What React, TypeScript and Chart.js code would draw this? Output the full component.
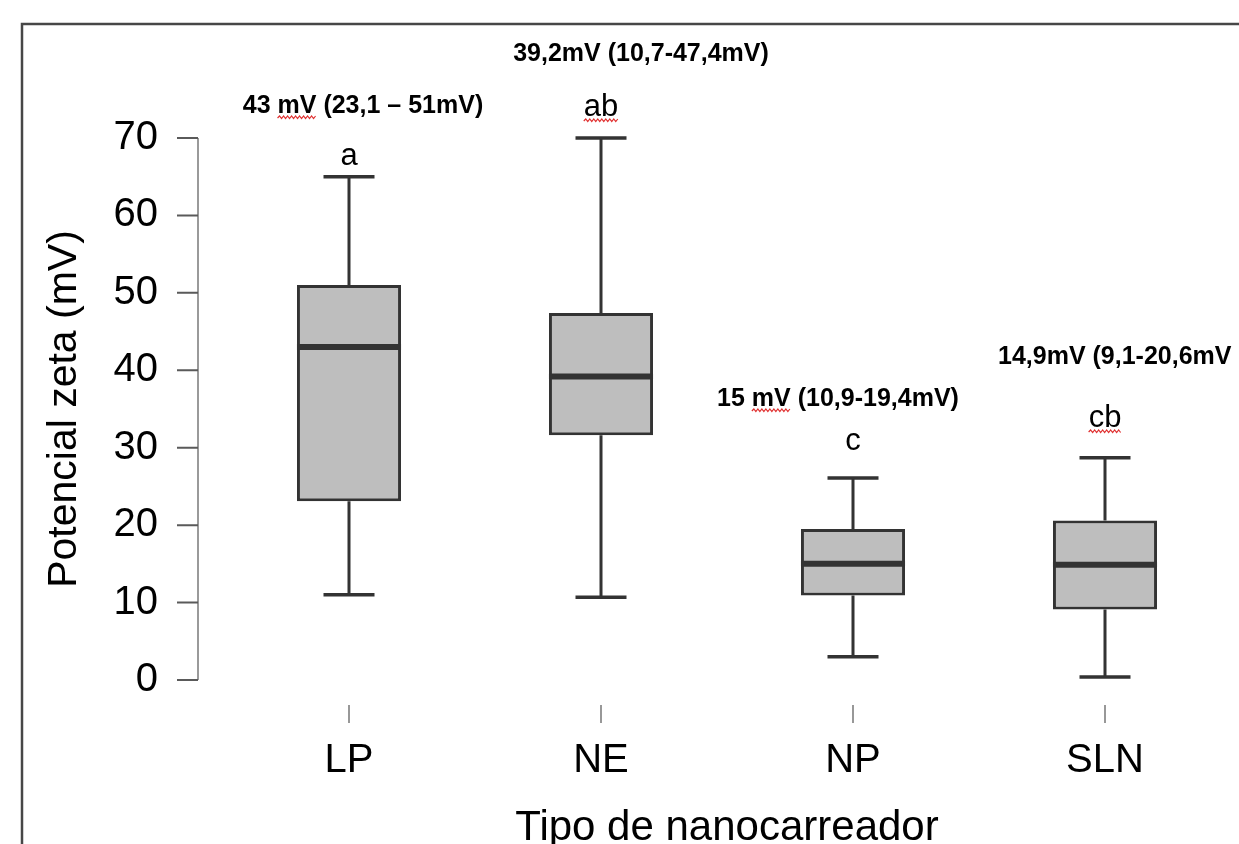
import React, { useEffect, useRef } from "react";
import { Chart, registerables } from "chart.js";

Chart.register(...registerables);

// ---- data ----
const categories = ["LP", "NE", "NP", "SLN"];
const whiskerMin = [11.0, 10.7, 3.0, 0.4];
const q1 = [23.1, 31.6, 10.9, 9.1];
const median = [43.0, 39.2, 15.0, 14.9];
const q3 = [51.0, 47.4, 19.5, 20.6];
const whiskerMax = [65.0, 70.0, 26.1, 28.7];
const yMin = 0;
const yMax = 70;
const yStep = 10;
const summaryLabels = ["43 mV (23,1 – 51mV)", "39,2mV (10,7-47,4mV)", "15 mV (10,9-19,4mV)", "14,9mV (9,1-20,6mV"];
const summaryUnderline = ["mV", "", "mV", ""];
const groupLetters = ["a", "ab", "c", "cb"];
const groupUnderline = [false, true, false, true];

// ---- layout / styles ----
const W = 1239;
const H = 844;
const FONT = "'Liberation Sans', Arial, sans-serif";
const summaryDx = [14, 40, -15, 0];
const summaryAlign: CanvasTextAlign[] = ["center", "center", "center", "left"];
const summaryLeftX = [0, 0, 0, 998];
const summaryBaseline = [113, 61, 406, 364];
const letterBaseline = [165, 116, 450, 427];

function squiggle(ctx: CanvasRenderingContext2D, x0: number, x1: number, yb: number) {
  ctx.save();
  ctx.strokeStyle = "#e03030";
  ctx.lineWidth = 1.2;
  ctx.beginPath();
  let up = true;
  ctx.moveTo(x0, yb);
  for (let x = x0 + 2; x <= x1; x += 2) {
    ctx.lineTo(x, up ? yb - 2 : yb + 0.5);
    up = !up;
  }
  ctx.stroke();
  ctx.restore();
}

const boxPlugin = {
  id: "boxExtras",
  beforeDraw(chart: any) {
    const ctx: CanvasRenderingContext2D = chart.ctx;
    ctx.save();
    ctx.fillStyle = "#ffffff";
    ctx.fillRect(0, 0, chart.width, chart.height);
    ctx.strokeStyle = "#474747";
    ctx.lineWidth = 2.5;
    ctx.beginPath();
    ctx.moveTo(22, chart.height + 2);
    ctx.lineTo(22, 24);
    ctx.lineTo(chart.width + 2, 24);
    ctx.stroke();
    ctx.restore();
  },
  afterDatasetsDraw(chart: any) {
    const ctx: CanvasRenderingContext2D = chart.ctx;
    const xs = chart.scales.x;
    const ys = chart.scales.y;
    const area = chart.chartArea;
    const meta = chart.getDatasetMeta(0);
    const py = (v: number) => ys.getPixelForValue(v);
    ctx.save();
    ctx.strokeStyle = "#333333";
    ctx.lineCap = "butt";
    categories.forEach((_, i) => {
      const el = meta.data[i];
      const cx = el.x;
      const half = el.width / 2;
      ctx.lineWidth = 3;
      ctx.beginPath();
      ctx.moveTo(cx, py(q3[i]));
      ctx.lineTo(cx, py(whiskerMax[i]));
      ctx.moveTo(cx, py(q1[i]));
      ctx.lineTo(cx, py(whiskerMin[i]));
      ctx.stroke();
      ctx.lineWidth = 3.5;
      ctx.beginPath();
      ctx.moveTo(cx - 25.5, py(whiskerMax[i]));
      ctx.lineTo(cx + 25.5, py(whiskerMax[i]));
      ctx.moveTo(cx - 25.5, py(whiskerMin[i]));
      ctx.lineTo(cx + 25.5, py(whiskerMin[i]));
      ctx.stroke();
      ctx.lineWidth = 6;
      ctx.beginPath();
      ctx.moveTo(cx - half, py(median[i]));
      ctx.lineTo(cx + half, py(median[i]));
      ctx.stroke();
    });

    // y axis line and ticks (offset from plot, R style)
    const axX = area.left - 25;
    ctx.strokeStyle = "#9a9a9a";
    ctx.lineWidth = 2;
    ctx.beginPath();
    ctx.moveTo(axX, py(yMin));
    ctx.lineTo(axX, py(yMax));
    ctx.stroke();
    ctx.strokeStyle = "#5a5a5a";
    ctx.beginPath();
    ys.ticks.forEach((t: any) => {
      const p = py(t.value);
      ctx.moveTo(axX - 21, p);
      ctx.lineTo(axX, p);
    });
    ctx.stroke();

    // x ticks
    ctx.strokeStyle = "#777777";
    ctx.lineWidth = 1.5;
    ctx.beginPath();
    categories.forEach((_, i) => {
      const p = xs.getPixelForValue(i);
      ctx.moveTo(p, area.bottom + 25);
      ctx.lineTo(p, area.bottom + 43);
    });
    ctx.stroke();

    // annotations
    ctx.fillStyle = "#000000";
    ctx.textBaseline = "alphabetic";
    categories.forEach((_, i) => {
      const cx = xs.getPixelForValue(i);
      ctx.font = `bold 25px ${FONT}`;
      const txt = summaryLabels[i];
      const fullW = ctx.measureText(txt).width;
      let left: number;
      if (summaryAlign[i] === "left") left = summaryLeftX[i];
      else left = cx + summaryDx[i] - fullW / 2;
      ctx.textAlign = "left";
      ctx.fillText(txt, left, summaryBaseline[i]);
      if (summaryUnderline[i]) {
        const idx = txt.indexOf(summaryUnderline[i]);
        const x0 = left + ctx.measureText(txt.slice(0, idx)).width;
        const x1 = x0 + ctx.measureText(summaryUnderline[i]).width;
        squiggle(ctx, x0, x1, summaryBaseline[i] + 5);
      }
      ctx.font = `31px ${FONT}`;
      ctx.textAlign = "center";
      ctx.fillText(groupLetters[i], cx, letterBaseline[i]);
      if (groupUnderline[i]) {
        const lw = ctx.measureText(groupLetters[i]).width;
        squiggle(ctx, cx - lw / 2, cx + lw / 2, letterBaseline[i] + 5);
      }
    });
    ctx.restore();
  },
};

export default function App() {
  const ref = useRef<HTMLCanvasElement | null>(null);
  useEffect(() => {
    if (!ref.current) return;
    const chart = new Chart(ref.current, {
      type: "bar",
      data: {
        labels: categories,
        datasets: [
          {
            label: "Potencial zeta",
            data: categories.map((_, i) => [q1[i], q3[i]]) as any,
            backgroundColor: "#bebebe",
            borderColor: "#333333",
            borderWidth: 3,
            borderSkipped: false,
            barPercentage: 0.413,
            categoryPercentage: 1,
          },
        ],
      },
      options: {
        animation: false,
        responsive: false,
        devicePixelRatio: 1,
        layout: { padding: { top: 138, right: 8, bottom: 0, left: 0 } },
        plugins: { legend: { display: false }, tooltip: { enabled: false } },
        scales: {
          x: {
            grid: { display: false },
            border: { display: false },
            ticks: {
              color: "#000000",
              padding: 49,
              font: { family: FONT, size: 40 },
            },
            title: {
              display: true,
              text: "Tipo de nanocarreador",
              color: "#000000",
              font: { family: FONT, size: 42 },
              padding: { top: 0, bottom: -10 },
            },
            afterFit: (s: any) => {
              s.height = 164;
            },
          },
          y: {
            min: yMin,
            max: yMax,
            grid: { display: false },
            border: { display: false },
            ticks: {
              stepSize: yStep,
              color: "#000000",
              padding: 57,
              font: { family: FONT, size: 40 },
            },
            title: {
              display: true,
              text: "Potencial zeta (mV)",
              color: "#000000",
              font: { family: FONT, size: 41 },
              padding: { top: 40, bottom: 0 },
            },
            afterFit: (s: any) => {
              s.width = 223;
            },
          },
        },
      },
      plugins: [boxPlugin],
    });
    return () => chart.destroy();
  }, []);
  return (
    <div style={{ position: "absolute", left: 0, top: 0, width: W, height: H, background: "#fff" }}>
      <canvas ref={ref} width={W} height={H} style={{ display: "block" }} />
    </div>
  );
}
